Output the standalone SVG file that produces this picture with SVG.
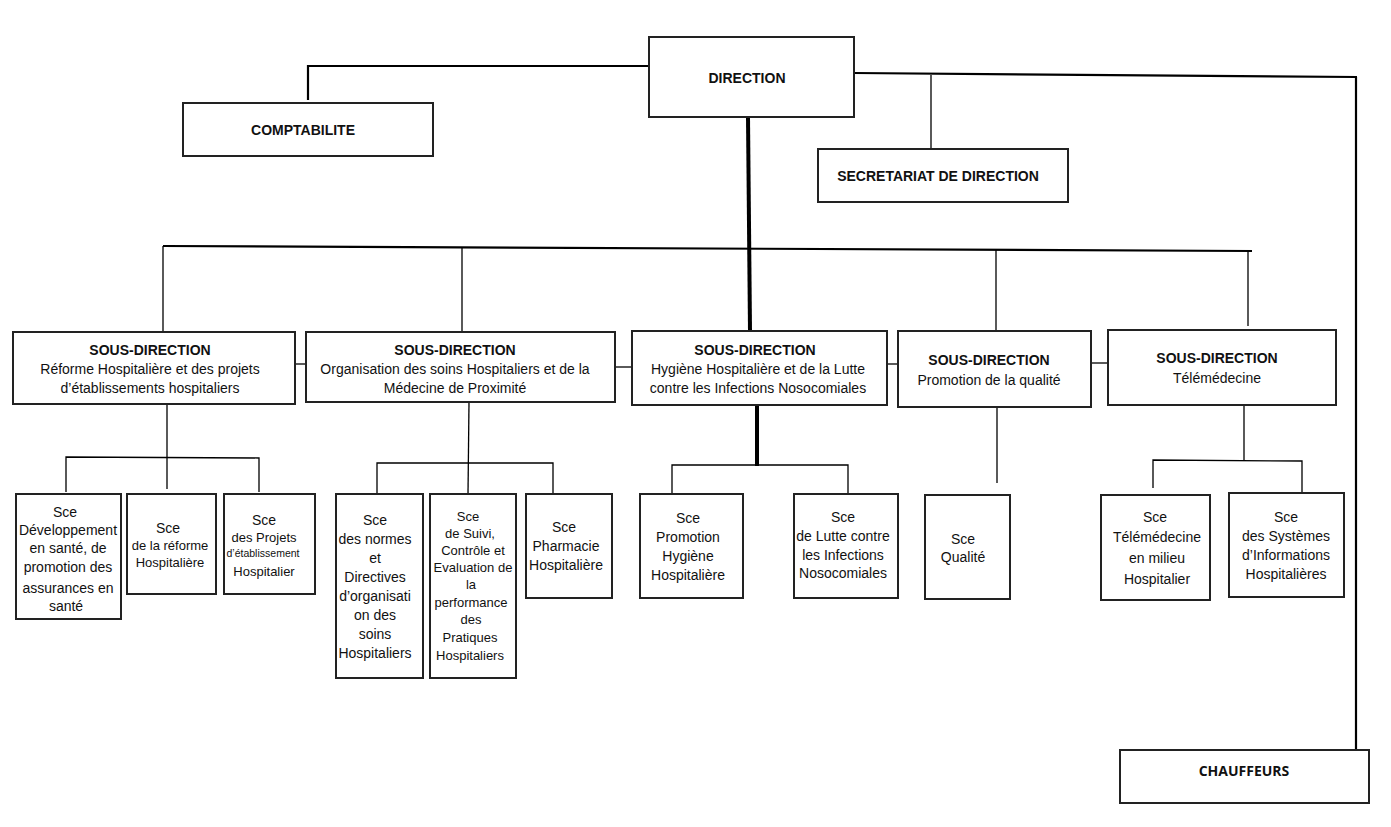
<svg xmlns="http://www.w3.org/2000/svg" width="1391" height="827" viewBox="0 0 1391 827">
<style>
.b{fill:#fff;stroke:#222;stroke-width:2}
.t{font-family:"Liberation Sans",Arial,sans-serif;font-size:14px;fill:#111;text-anchor:middle}
.h{font-weight:bold}
.s{font-size:13px}
.c{font-family:"Open Sans","Liberation Sans",sans-serif;font-weight:bold;font-size:14px;fill:#111;text-anchor:middle}
.l{stroke:#000;stroke-width:1.3;fill:none}
.m{stroke:#000;stroke-width:2.2;fill:none}
.k{stroke:#000;stroke-width:4;fill:none}
</style>
<g id="connectors">
<polyline class="m" points="649,66 308,66 308,100"/>
<line class="m" x1="854" y1="73" x2="1357" y2="77"/>
<line class="l" x1="931" y1="75" x2="931" y2="149"/>
<line class="m" x1="1356" y1="77" x2="1356" y2="750"/>
<line class="k" x1="748" y1="117" x2="750" y2="331"/>
<line class="m" x1="163" y1="246" x2="1252" y2="251"/>
<line class="l" x1="163" y1="246" x2="163" y2="332"/>
<line class="l" x1="462" y1="248" x2="462" y2="332"/>
<line class="l" x1="996" y1="250" x2="996" y2="331"/>
<line class="l" x1="1248" y1="251" x2="1248" y2="326"/>
<line class="l" x1="290" y1="364" x2="310" y2="364"/>
<line class="l" x1="608" y1="367" x2="638" y2="367"/>
<line class="l" x1="882" y1="364" x2="905" y2="364"/>
<line class="l" x1="1085" y1="363" x2="1115" y2="363"/>
<line class="l" x1="167" y1="404" x2="167" y2="489"/>
<polyline class="l" points="66,492 66,457 259,458 259,492"/>
<line class="l" x1="469" y1="402" x2="468" y2="494"/>
<polyline class="l" points="377,494 377,463 553,463 553,494"/>
<line class="k" x1="757" y1="405" x2="757" y2="466"/>
<polyline class="l" points="672,494 672,465 848,465 848,494"/>
<line class="l" x1="997" y1="407" x2="997" y2="483"/>
<line class="l" x1="1244" y1="405" x2="1244" y2="460"/>
<polyline class="l" points="1153,488 1153,460 1302,461 1302,493"/>
</g>
<g id="direction"><rect class="b" x="649" y="37" width="205" height="80"/><text class="t h" x="747" y="83">DIRECTION</text></g>
<g id="comptabilite"><rect class="b" x="183" y="103" width="250" height="53"/><text class="t h" x="303" y="135">COMPTABILITE</text></g>
<g id="secretariat"><rect class="b" x="818" y="149" width="250" height="53"/><text class="t h" x="938" y="181">SECRETARIAT DE DIRECTION</text></g>
<g id="chauffeurs"><rect class="b" x="1120" y="750" width="249" height="53"/><text class="c" x="1244" y="776">CHAUFFEURS</text></g>
<g id="sd1"><rect class="b" x="13" y="332" width="282" height="72"/><text class="t h" x="150" y="355">SOUS-DIRECTION</text><text class="t" x="150" y="374">Réforme Hospitalière et des projets</text><text class="t" x="150" y="393">d’établissements hospitaliers</text></g>
<g id="sd2"><rect class="b" x="306" y="332" width="309" height="70"/><text class="t h" x="455" y="355">SOUS-DIRECTION</text><text class="t" x="455" y="374">Organisation des soins Hospitaliers et de la</text><text class="t" x="455" y="393">Médecine de Proximité</text></g>
<g id="sd3"><rect class="b" x="632" y="331" width="255" height="74"/><text class="t h" x="755" y="355">SOUS-DIRECTION</text><text class="t" x="758" y="374">Hygiène Hospitalière et de la Lutte</text><text class="t" x="758" y="393">contre les Infections Nosocomiales</text></g>
<g id="sd4"><rect class="b" x="898" y="331" width="193" height="76"/><text class="t h" x="989" y="365">SOUS-DIRECTION</text><text class="t" x="989" y="385">Promotion de la qualité</text></g>
<g id="sd5"><rect class="b" x="1108" y="330" width="228" height="75"/><text class="t h" x="1217" y="363">SOUS-DIRECTION</text><text class="t" x="1217" y="383">Télémédecine</text></g>
<g id="s1a"><rect class="b" x="16" y="494" width="105" height="125"/><text class="t" x="65" y="517">Sce</text><text class="t" x="68" y="535">Développement</text><text class="t" x="68" y="553">en santé, de</text><text class="t" x="68" y="572">promotion des</text><text class="t" x="68" y="593">assurances en</text><text class="t" x="66" y="611">santé</text></g>
<g id="s1b"><rect class="b" x="127" y="494" width="89" height="100"/><text class="t" x="168" y="533">Sce</text><text class="t s" x="170" y="550">de la réforme</text><text class="t s" x="170" y="567">Hospitalière</text></g>
<g id="s1c"><rect class="b" x="224" y="494" width="91" height="100"/><text class="t" x="264" y="525">Sce</text><text class="t s" x="264" y="542">des Projets</text><text class="t" style="font-size:10.5px" x="263" y="557">d’établissement</text><text class="t s" x="264" y="576">Hospitalier</text></g>
<g id="s2a"><rect class="b" x="336" y="494" width="87" height="184"/><text class="t" x="375" y="525">Sce</text><text class="t" x="375" y="544">des normes</text><text class="t" x="375" y="563">et</text><text class="t" x="375" y="582">Directives</text><text class="t" x="375" y="601">d’organisati</text><text class="t" x="375" y="620">on des</text><text class="t" x="375" y="639">soins</text><text class="t" x="375" y="658">Hospitaliers</text></g>
<g id="s2b"><rect class="b" x="430" y="494" width="86" height="184"/><text class="t s" x="468" y="521">Sce</text><text class="t s" x="470" y="538">de Suivi,</text><text class="t s" x="473" y="555">Contrôle et</text><text class="t s" x="473" y="572">Evaluation de</text><text class="t s" x="471" y="589">la</text><text class="t s" x="471" y="607">performance</text><text class="t s" x="471" y="624">des</text><text class="t s" x="470" y="642">Pratiques</text><text class="t s" x="470" y="660">Hospitaliers</text></g>
<g id="s2c"><rect class="b" x="526" y="494" width="86" height="104"/><text class="t" x="564" y="532">Sce</text><text class="t" x="566" y="551">Pharmacie</text><text class="t" x="566" y="570">Hospitalière</text></g>
<g id="s3a"><rect class="b" x="640" y="494" width="103" height="104"/><text class="t" x="688" y="523">Sce</text><text class="t" x="688" y="542">Promotion</text><text class="t" x="688" y="561">Hygiène</text><text class="t" x="688" y="580">Hospitalière</text></g>
<g id="s3b"><rect class="b" x="794" y="494" width="104" height="104"/><text class="t" x="843" y="522">Sce</text><text class="t" x="843" y="541">de Lutte contre</text><text class="t" x="843" y="560">les Infections</text><text class="t" x="843" y="578">Nosocomiales</text></g>
<g id="s4"><rect class="b" x="925" y="495" width="85" height="104"/><text class="t" x="963" y="544">Sce</text><text class="t" x="963" y="562">Qualité</text></g>
<g id="s5a"><rect class="b" x="1101" y="495" width="109" height="105"/><text class="t" x="1155" y="522">Sce</text><text class="t" x="1157" y="542">Télémédecine</text><text class="t" x="1157" y="563">en milieu</text><text class="t" x="1157" y="584">Hospitalier</text></g>
<g id="s5b"><rect class="b" x="1229" y="493" width="115" height="104"/><text class="t" x="1286" y="522">Sce</text><text class="t" x="1286" y="541">des Systèmes</text><text class="t" x="1286" y="560">d’Informations</text><text class="t" x="1286" y="579">Hospitalières</text></g>
</svg>
